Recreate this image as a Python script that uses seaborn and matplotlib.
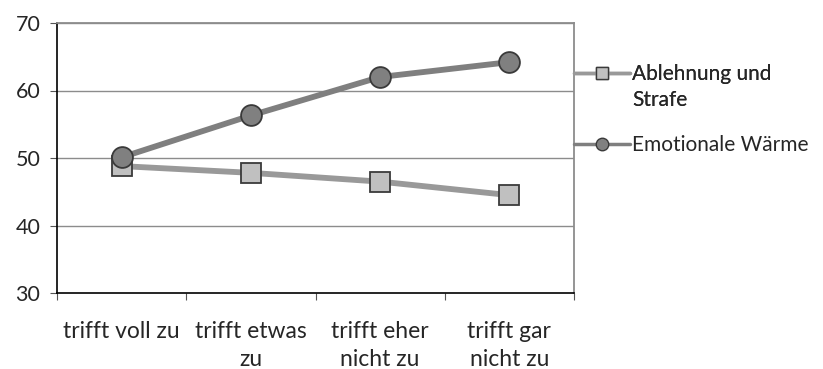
import matplotlib
matplotlib.use("Agg")
import matplotlib.pyplot as plt
from matplotlib.lines import Line2D
import pandas as pd
import seaborn as sns

# data
categories = ["trifft voll zu", "trifft etwas\nzu", "trifft eher\nnicht zu", "trifft gar\nnicht zu"]
ablehnung = [48.8, 47.8, 46.5, 44.5]
waerme = [50.1, 56.3, 62.0, 64.2]
series_names = ["Ablehnung und Strafe", "Emotionale Wärme"]
y_ticks = [30, 40, 50, 60, 70]

df = pd.DataFrame({
    "wert": ablehnung + waerme,
    "reihe": [series_names[0]] * 4 + [series_names[1]] * 4,
})
df["pos"] = list(range(4)) * 2

sns.set_style("white")
plt.rcParams["font.family"] = ["Lato", "DejaVu Sans"]
plt.rcParams["font.size"] = 16

fig = plt.figure(figsize=(8.23, 3.69), dpi=100)
ax = fig.add_axes([57 / 823, 1 - 293 / 369, (574 - 57) / 823, (293 - 23) / 369])

line_cols = ["#999999", "#7f7f7f"]
fills = ["#c0c0c0", "#808080"]
palette = dict(zip(series_names, line_cols))
sns.lineplot(data=df, x="pos", y="wert", hue="reihe", style="reihe",
             palette=palette, markers={series_names[0]: "s", series_names[1]: "o"},
             dashes=False, linewidth=4.2, markersize=15, ax=ax, legend=False)

for line, fc in zip(ax.get_lines(), fills):
    line.set_markerfacecolor(fc)
    line.set_markeredgecolor("#3a3a3a")
    line.set_markeredgewidth(1.3)

ax.set_xlim(-0.5, 3.5)
ax.set_ylim(30, 70)
ax.set_yticks(y_ticks)
ax.set_yticklabels([str(t) for t in y_ticks])
for t in y_ticks[1:]:
    ax.axhline(t, color="#8c8c8c", lw=1, zorder=0)

ax.set_xticks([-0.5, 0.5, 1.5, 2.5, 3.5])
ax.set_xticklabels([])
ax.set_xticks(range(4), minor=True)
ax.set_xticklabels(categories, minor=True, linespacing=1.4, va="top")
ax.tick_params(axis="x", which="minor", bottom=True, length=0, pad=20, labelsize=16.5)
ax.tick_params(axis="x", which="major", bottom=True, length=5, width=0.8,
               color="#555555", direction="out")
ax.tick_params(axis="y", left=True, length=5, width=0.8, color="#555555",
               direction="out", pad=7, labelsize=15.5)
ax.set_xlabel("")
ax.set_ylabel("")

for side in ["top", "right"]:
    ax.spines[side].set_color("#8c8c8c")
    ax.spines[side].set_linewidth(1.3)
for side in ["left", "bottom"]:
    ax.spines[side].set_color("#000000")
    ax.spines[side].set_linewidth(1.2)

# legend: handle sits on the first line of the wrapped label
def handle(i, marker):
    return Line2D([], [], color=line_cols[i], lw=2.5, marker=marker, markersize=9,
                  markerfacecolor=fills[i], markeredgecolor="#3a3a3a", markeredgewidth=1)

blank = Line2D([], [], alpha=0)
leg_kw = dict(loc="upper left", frameon=False, handlelength=2.7, handletextpad=0.1,
              borderpad=0, borderaxespad=0, labelspacing=0.3, fontsize=15)
leg1 = fig.legend([handle(0, "s"), blank], ["Ablehnung und", "Strafe"],
                  bbox_to_anchor=(574 / 823, 1 - 64 / 369), **leg_kw)
fig.add_artist(leg1)
fig.legend([handle(1, "o")], ["Emotionale Wärme"],
           bbox_to_anchor=(574 / 823, 1 - 135 / 369), **leg_kw)

fig.savefig("out.png", dpi=100)
